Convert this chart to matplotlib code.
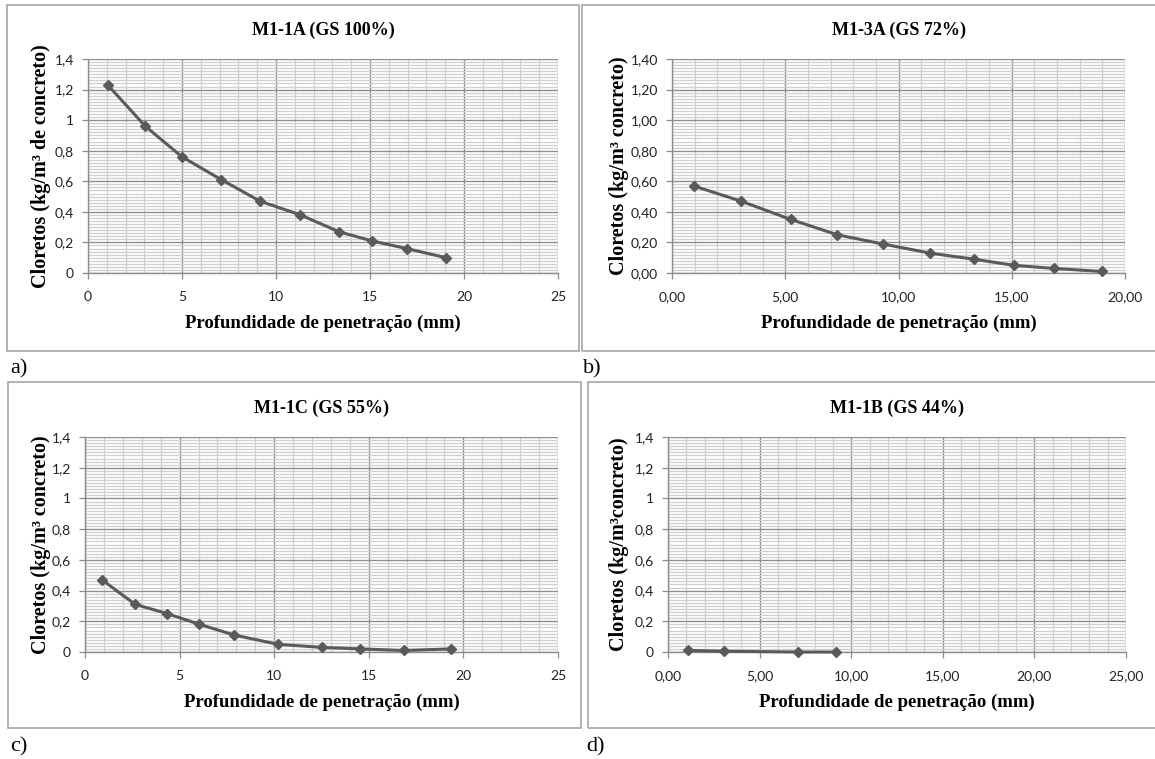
import numpy as np
import matplotlib
matplotlib.use('Agg')
import matplotlib.pyplot as plt
from matplotlib.patches import Rectangle
from matplotlib.ticker import MultipleLocator, FuncFormatter

# Data
x_a = [1.05, 3.05, 5.0, 7.1, 9.15, 11.3, 13.35, 15.1, 16.95, 19.05]
y_a = [1.23, 0.96, 0.76, 0.61, 0.47, 0.38, 0.27, 0.21, 0.16, 0.10]

x_b = [0.95, 3.05, 5.25, 7.3, 9.3, 11.4, 13.35, 15.1, 16.85, 19.0]
y_b = [0.57, 0.47, 0.35, 0.25, 0.19, 0.13, 0.09, 0.05, 0.03, 0.01]

x_c = [0.9, 2.65, 4.35, 6.05, 7.9, 10.2, 12.55, 14.55, 16.85, 19.35]
y_c = [0.47, 0.31, 0.25, 0.18, 0.11, 0.05, 0.03, 0.02, 0.01, 0.02]

x_d = [1.1, 3.05, 7.1, 9.15]
y_d = [0.01, 0.005, 0.0, 0.0]

titles = ['M1-1A (GS 100%)', 'M1-3A (GS 72%)', 'M1-1C (GS 55%)', 'M1-1B (GS 44%)']
ylabels = ['Cloretos (kg/m³ de concreto)', 'Cloretos (kg/m³ concreto)',
           'Cloretos (kg/m³ concreto)', 'Cloretos (kg/m³concreto)']
xlabel = 'Profundidade de penetração (mm)'
xmax = [25, 20, 25, 25]
xdec = [0, 2, 0, 2]
ydec = [None, 2, None, None]
panel_tags = ['a)', 'b)', 'c)', 'd)']

W, H = 1155, 759
fig = plt.figure(figsize=(W / 100, H / 100), dpi=100)
fig.patch.set_facecolor('white')

serif = ['Liberation Serif', 'DejaVu Serif']
sans = ['Lato', 'DejaVu Sans']

# axes boxes in pixels: left, right, top, bottom
ax_px = [(88, 558, 59, 273), (672, 1125, 59, 273), (85, 558, 437, 652), (668, 1126, 437, 652)]
frame_px = [(7, 579, 5, 351), (582, 1160, 5, 351), (8, 581, 382, 728), (588, 1160, 382, 728)]
tag_px = [(10, 369), (583, 369), (10, 747), (586, 747)]
ylab_x_px = [41, 619, 41, 619]
xlab_gap_px = 50

line_c = '#5a5a5a'
major_c = '#8f8f8f'
minor_c = '#cfcfcf'


def fmt_comma(dec):
    # decimal comma, as in the original charts
    def f(v, pos):
        if dec is None:
            s = '{:.1f}'.format(v).rstrip('0').rstrip('.')
        else:
            s = '{:.{}f}'.format(v, dec)
        return s.replace('.', ',')
    return FuncFormatter(f)


data = [(x_a, y_a), (x_b, y_b), (x_c, y_c), (x_d, y_d)]

for i in range(4):
    l, r, t, b = ax_px[i]
    ax = fig.add_axes([l / W, 1 - b / H, (r - l) / W, (b - t) / H])
    xs, ys = data[i]

    ax.set_xlim(0, xmax[i])
    ax.set_ylim(0, 1.4)
    ax.xaxis.set_major_locator(MultipleLocator(5))
    ax.xaxis.set_minor_locator(MultipleLocator(1))
    ax.yaxis.set_major_locator(MultipleLocator(0.2))
    ax.yaxis.set_minor_locator(MultipleLocator(0.02))
    ax.xaxis.set_major_formatter(fmt_comma(xdec[i]))
    ax.yaxis.set_major_formatter(fmt_comma(ydec[i]))

    # Excel-like grid
    ax.grid(which='minor', color=minor_c, lw=0.9, zorder=0)
    ax.grid(which='major', color=major_c, lw=1.0, zorder=0)
    ax.set_axisbelow(True)

    for side in ['top', 'right']:
        ax.spines[side].set_visible(False)
    for side in ['left', 'bottom']:
        ax.spines[side].set_color('#8c8c8c')
        ax.spines[side].set_linewidth(1.0)

    ax.tick_params(which='major', direction='out', length=4, width=0.9, color='#8c8c8c',
                   labelsize=10, labelcolor='#222222', pad=6)
    ax.tick_params(axis='x', which='major', pad=9)
    ax.tick_params(which='minor', length=0)
    for lab in ax.get_xticklabels() + ax.get_yticklabels():
        lab.set_family(sans)

    ax.plot(xs, ys, color=line_c, lw=2.2, marker='D', ms=5, mfc=line_c, mec=line_c, zorder=3,
            clip_on=False)

    ax.set_title(titles[i], family=serif, fontweight='bold', fontsize=13, pad=17)
    ax.set_xlabel(xlabel, family=serif, fontweight='bold', fontsize=13.5)
    ax.set_ylabel(ylabels[i], family=serif, fontweight='bold', fontsize=14.5)
    ax.xaxis.set_label_coords(0.5, -xlab_gap_px / (b - t))
    ax.xaxis.label.set_va('center')
    ax.yaxis.set_label_coords((ylab_x_px[i] - l) / (r - l), 0.5)
    ax.yaxis.label.set_va('center')

    # panel frame
    fl, fr, ft, fb = frame_px[i]
    fig.add_artist(Rectangle((fl / W, 1 - fb / H), (fr - fl) / W, (fb - ft) / H,
                             transform=fig.transFigure, fill=False, ec='#a6a6a6', lw=1.2))

    tx, ty = tag_px[i]
    fig.text(tx / W, 1 - ty / H, panel_tags[i], family=serif, fontsize=16, va='center', ha='left')

fig.savefig('out.png', dpi=100, facecolor='white')
